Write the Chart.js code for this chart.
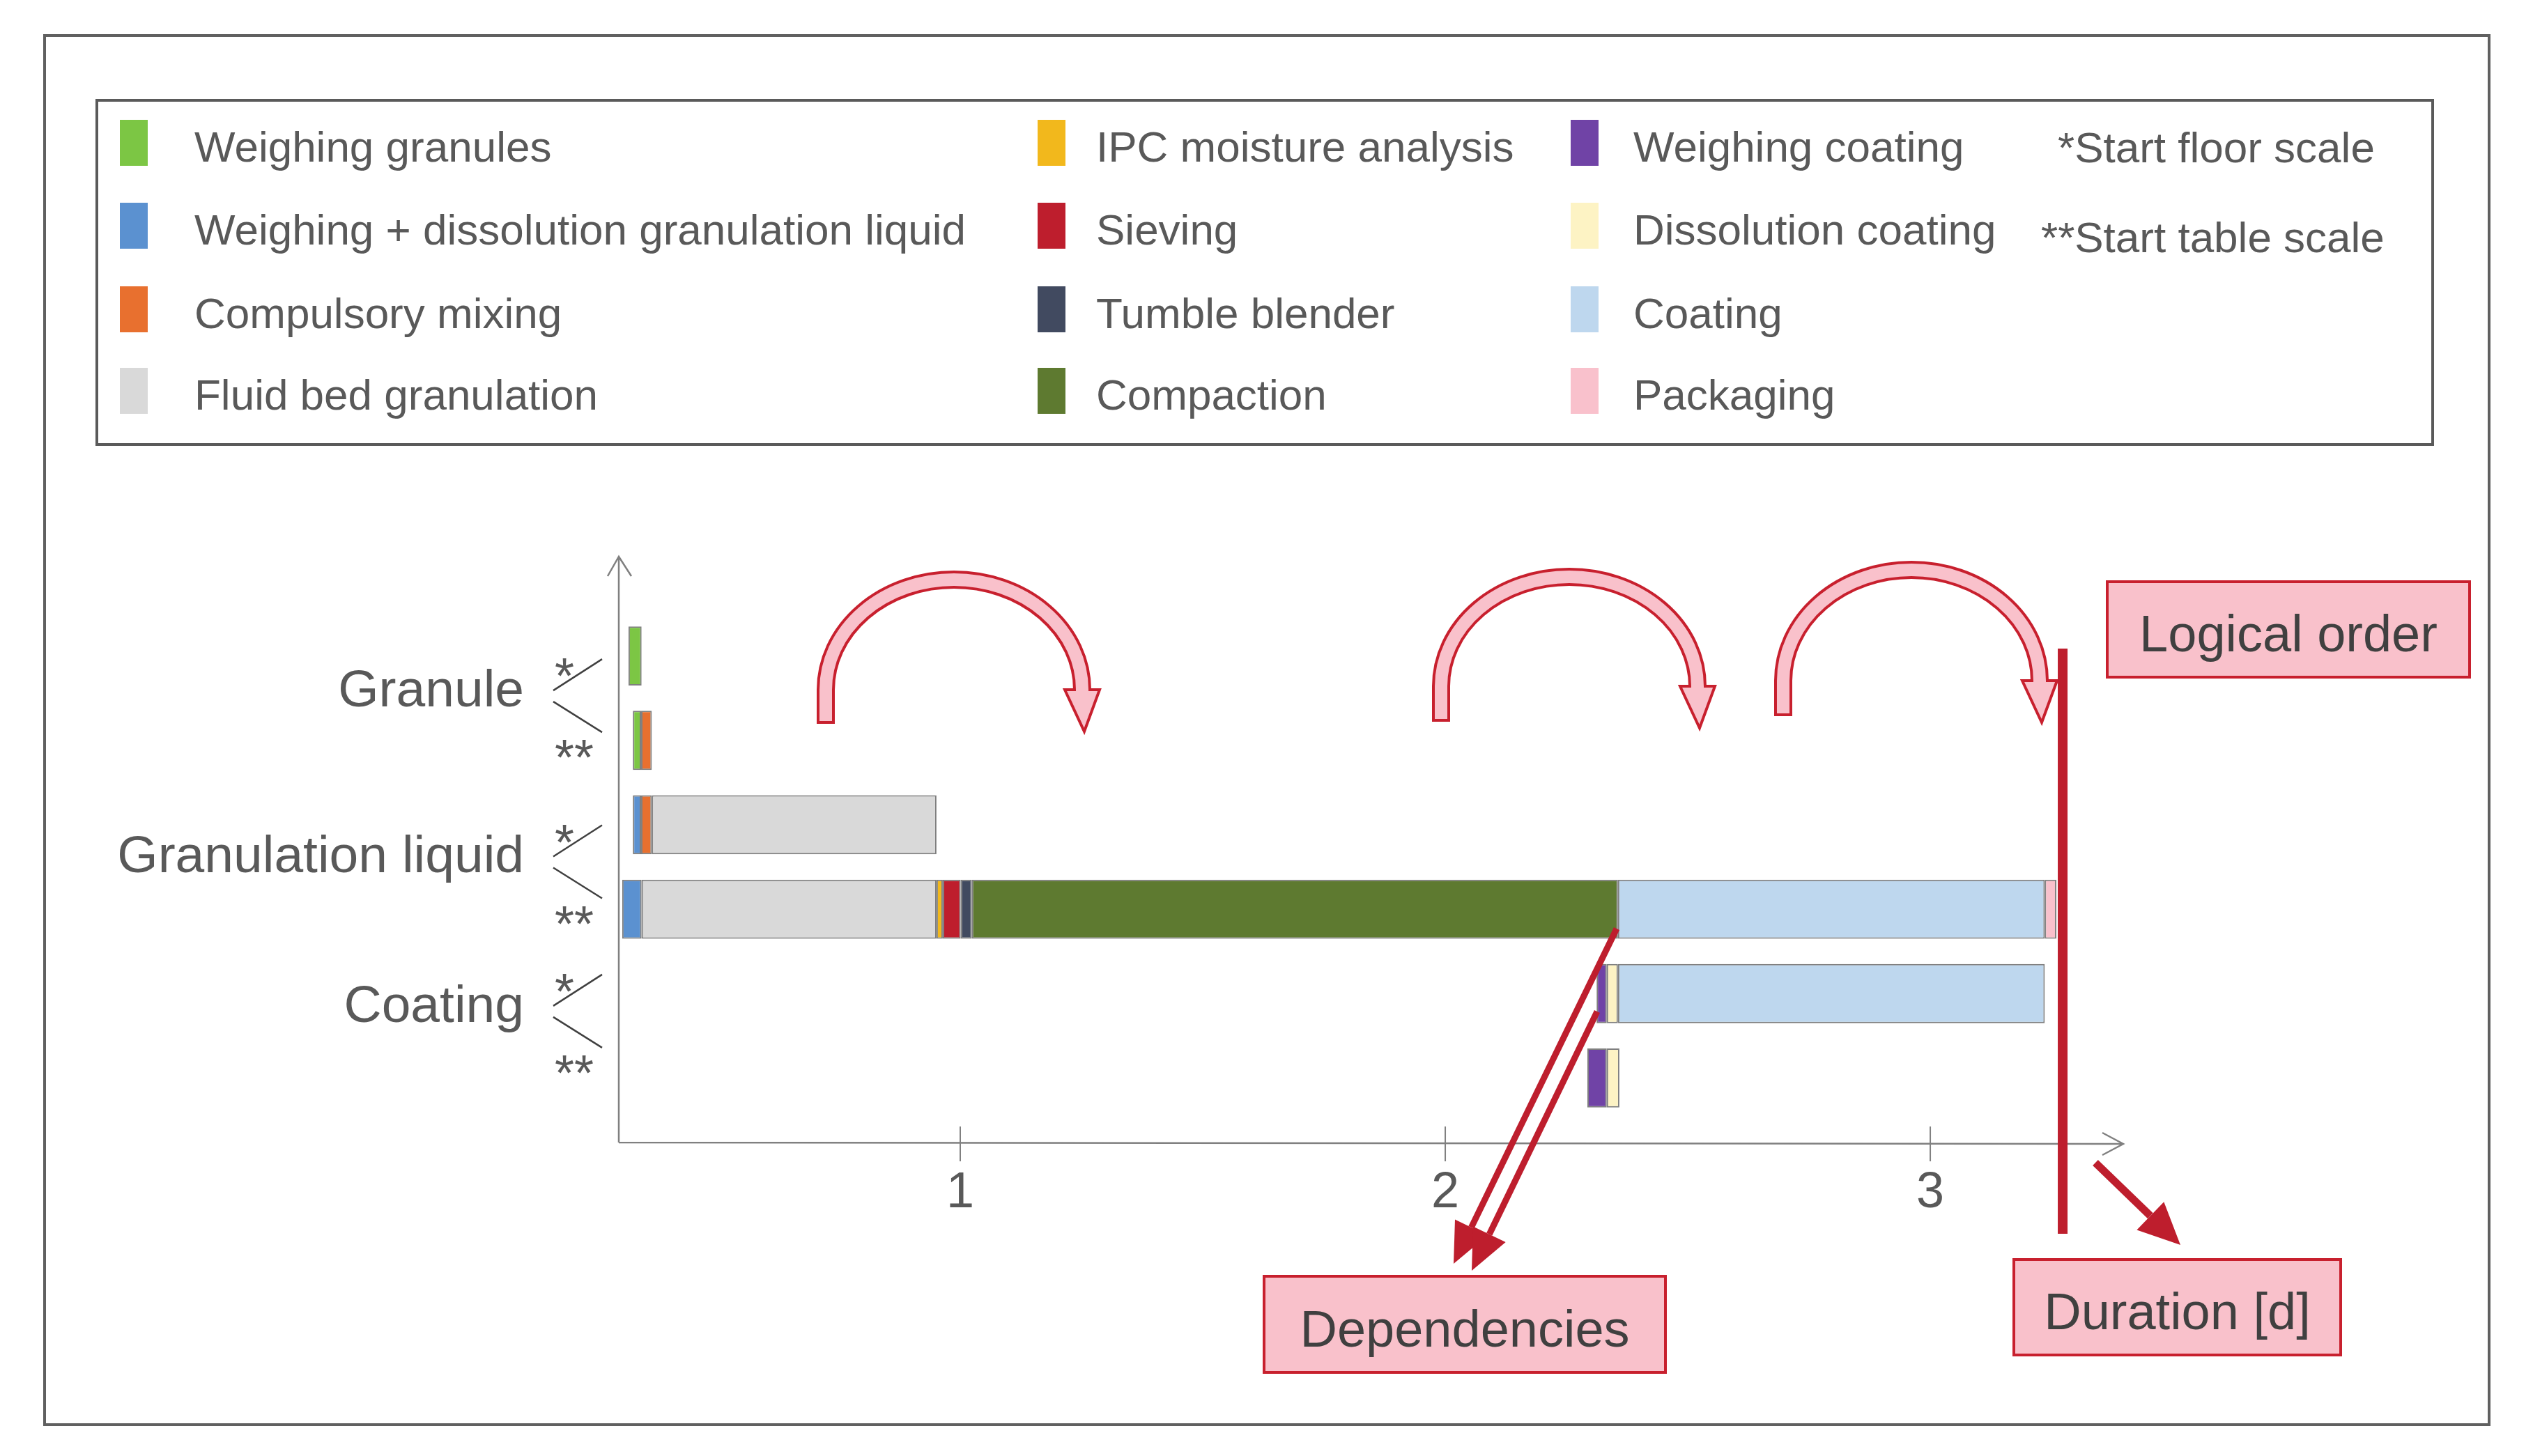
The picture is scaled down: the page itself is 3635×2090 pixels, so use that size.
<!DOCTYPE html>
<html>
<head>
<meta charset="utf-8">
<title>Process schedule – granule, granulation liquid, coating</title>
<script src="https://cdn.jsdelivr.net/npm/chart.js@4.4.1/dist/chart.umd.min.js"></script>
<style>
  html, body { margin: 0; padding: 0; background: #fff; }
  body { width: 3635px; height: 2090px; position: relative; overflow: hidden;
         font-family: "Liberation Sans", Arial, sans-serif; }
  #chart { position: absolute; left: 0; top: 0; }
  .frame { position: absolute; box-sizing: border-box; border: 4px solid #606060; }
  .swatch { position: absolute; width: 40px; height: 66px; }
  .ltext { position: absolute; font-size: 62px; line-height: 70px; color: #595959; white-space: nowrap; }
  .callout { position: absolute; box-sizing: border-box; background: #f9c1cb; border: 4px solid #c8202e;
             color: #404040; font-size: 74px; display: flex; align-items: center; justify-content: center;
             padding-top: 12px; white-space: nowrap; }
</style>
</head>
<body>
<div class="frame" style="left:62px;top:49px;width:3512px;height:1998px;"></div>
<div class="frame" style="left:137px;top:142px;width:3356px;height:498px;border-color:#5a5a5a;"></div>
<div id="legend"></div>
<canvas id="chart" width="3635" height="2090" style="width:3635px;height:2090px;"></canvas>
<div class="callout" style="left:3022px;top:833px;width:524px;height:141px;">Logical order</div>
<div class="callout" style="left:1812px;top:1830px;width:580px;height:142px;">Dependencies</div>
<div class="callout" style="left:2888px;top:1806px;width:473px;height:141px;">Duration [d]</div>

<script>
// rows of the schedule (* = start floor scale, ** = start table scale)
const rowLabels = ['Granule *', 'Granule **', 'Granulation liquid *', 'Granulation liquid **', 'Coating *', 'Coating **'];
const groupLabels = ['Granule', 'Granulation liquid', 'Coating'];
const xTickValues = [1, 2, 3];
const footnotes = ['*Start floor scale', '**Start table scale'];

const processNames = [
  'Weighing granules', 'Weighing + dissolution granulation liquid', 'Compulsory mixing', 'Fluid bed granulation',
  'IPC moisture analysis', 'Sieving', 'Tumble blender', 'Compaction',
  'Weighing coating', 'Dissolution coating', 'Coating', 'Packaging'
];
const processColors = [
  '#7cc644', '#5b91d0', '#e8702f', '#d9d9d9',
  '#f2b81c', '#be1e2d', '#414a60', '#5e7a30',
  '#7043a6', '#fdf3c4', '#bed7ee', '#f9c1cc'
];

// [start, end] in days for each row, null = not used in that row
const weighingGranules   = [[0.316, 0.343], [0.325, 0.342], null, null, null, null];
const weighingLiquid     = [null, null, [0.325, 0.342], [0.303, 0.343], null, null];
const compulsoryMixing   = [null, [0.342, 0.364], [0.342, 0.364], null, null, null];
const fluidBed           = [null, null, [0.364, 0.951], [0.343, 0.951], null, null];
const ipcMoisture        = [null, null, null, [0.951, 0.964], null, null];
const sieving            = [null, null, null, [0.964, 1.001], null, null];
const tumbleBlender      = [null, null, null, [1.001, 1.024], null, null];
const compaction         = [null, null, null, [1.024, 2.356], null, null];
const weighingCoating    = [null, null, null, null, [2.312, 2.333], [2.293, 2.333]];
const dissolutionCoating = [null, null, null, null, [2.333, 2.356], [2.333, 2.359]];
const coating            = [null, null, null, [2.356, 3.236], [2.356, 3.236], null];
const packaging          = [null, null, null, [3.236, 3.260], null, null];

const processValues = [
  weighingGranules, weighingLiquid, compulsoryMixing, fluidBed,
  ipcMoisture, sieving, tumbleBlender, compaction,
  weighingCoating, dissolutionCoating, coating, packaging
];

const FONT = '"Liberation Sans", Arial, sans-serif';
const TEXT = '#595959';
const RED = '#be1e2d';

// curved "logical order" arrows
function curvedArrow(ctx, a) {
  const cx = (a.xL + a.xR) / 2, rx = (a.xR - a.xL) / 2, ry = a.yR - a.apex;
  const band = (footExt, endExt) => {
    ctx.beginPath();
    ctx.moveTo(a.xL, a.yL + footExt);
    ctx.lineTo(a.xL, a.yR);
    ctx.ellipse(cx, a.yR, rx, ry, 0, Math.PI, 2 * Math.PI);
    ctx.lineTo(a.xR, a.yR + endExt);
  };
  ctx.save();
  ctx.lineCap = 'butt';
  ctx.strokeStyle = '#c8202e';
  ctx.lineWidth = 26;
  band(4, 0);
  ctx.stroke();
  // arrow head
  ctx.beginPath();
  ctx.moveTo(a.xR - 25, a.yR);
  ctx.lineTo(a.xR + 25, a.yR);
  ctx.lineTo(a.xR + 3, a.yR + 60);
  ctx.closePath();
  ctx.fillStyle = '#f9c1cb';
  ctx.fill();
  ctx.lineWidth = 4;
  ctx.lineJoin = 'miter';
  ctx.stroke();
  ctx.strokeStyle = '#f9c1cb';
  ctx.lineWidth = 18;
  band(0, 4);
  ctx.stroke();
  ctx.restore();
}

function straightArrow(ctx, x1, y1, x2, y2, w, headLen, headHalf) {
  const ang = Math.atan2(y2 - y1, x2 - x1);
  const bx = x2 - headLen * Math.cos(ang), by = y2 - headLen * Math.sin(ang);
  ctx.save();
  ctx.strokeStyle = RED;
  ctx.fillStyle = RED;
  ctx.lineWidth = w;
  ctx.beginPath();
  ctx.moveTo(x1, y1);
  ctx.lineTo(bx, by);
  ctx.stroke();
  ctx.beginPath();
  ctx.moveTo(x2, y2);
  ctx.lineTo(bx + headHalf * Math.sin(ang), by - headHalf * Math.cos(ang));
  ctx.lineTo(bx - headHalf * Math.sin(ang), by + headHalf * Math.cos(ang));
  ctx.closePath();
  ctx.fill();
  ctx.restore();
}

const schemePlugin = {
  id: 'scheme',
  afterDraw(chart) {
    const ctx = chart.ctx;
    const xs = chart.scales.x, ys = chart.scales.y;
    const left = chart.chartArea.left;
    const axisY = 1640, axisTop = 799, axisEnd = 3047;

    ctx.save();
    // axes with open arrow heads
    ctx.strokeStyle = '#808080';
    ctx.lineWidth = 2.5;
    ctx.beginPath();
    ctx.moveTo(left, axisY); ctx.lineTo(left, axisTop);
    ctx.moveTo(left - 16, axisTop + 28); ctx.lineTo(left, axisTop); ctx.lineTo(left + 18, axisTop + 28);
    ctx.moveTo(left, axisY); ctx.lineTo(axisEnd, axisY + 2);
    ctx.moveTo(axisEnd - 30, axisY - 14); ctx.lineTo(axisEnd, axisY + 2); ctx.lineTo(axisEnd - 30, axisY + 18);
    ctx.stroke();
    ctx.lineWidth = 2;
    ctx.beginPath();
    xTickValues.forEach(v => {
      const px = xs.getPixelForValue(v);
      ctx.moveTo(px, axisY - 23); ctx.lineTo(px, axisY + 27);
    });
    ctx.stroke();

    // group labels with * / ** branches
    const groupShift = [-3, -7, -35];
    groupLabels.forEach((g, i) => {
      const v = (ys.getPixelForValue(2 * i) + ys.getPixelForValue(2 * i + 1)) / 2 + groupShift[i];
      ctx.fillStyle = TEXT;
      ctx.font = '75px ' + FONT;
      ctx.textAlign = 'right';
      ctx.textBaseline = 'middle';
      ctx.fillText(g, 752, v - 6);
      ctx.font = '72px ' + FONT;
      ctx.textAlign = 'left';
      ctx.textBaseline = 'alphabetic';
      ctx.fillText('*', 796, v - 4);
      ctx.fillText('**', 796, v + 113);
      ctx.strokeStyle = '#404040';
      ctx.lineWidth = 2.5;
      ctx.beginPath();
      ctx.moveTo(864, v - 53); ctx.lineTo(794, v - 8);
      ctx.moveTo(794, v + 8); ctx.lineTo(864, v + 52);
      ctx.stroke();
    });
    ctx.restore();

    // logical order arrows
    curvedArrow(ctx, { xL: 1185, yL: 1035, xR: 1553, yR: 990, apex: 832 });
    curvedArrow(ctx, { xL: 2068, yL: 1032, xR: 2436, yR: 985, apex: 828 });
    curvedArrow(ctx, { xL: 2559, yL: 1024, xR: 2927, yR: 977, apex: 818 });

    // end of process line
    const endX = xs.getPixelForValue(packaging[3][1]) + 9;
    ctx.save();
    ctx.strokeStyle = RED;
    ctx.lineWidth = 14;
    ctx.beginPath();
    ctx.moveTo(endX, 931); ctx.lineTo(endX, 1771);
    ctx.stroke();
    ctx.restore();

    // dependency + duration arrows
    straightArrow(ctx, 2320, 1333, 2086, 1814, 9, 58, 26);
    straightArrow(ctx, 2292, 1452, 2112, 1824, 9, 58, 26);
    straightArrow(ctx, 3007, 1669, 3129, 1787, 11, 60, 28);
  }
};

const chart = new Chart(document.getElementById('chart'), {
  type: 'bar',
  data: {
    labels: rowLabels,
    datasets: processNames.map((name, i) => ({
      label: name,
      data: processValues[i],
      backgroundColor: processColors[i],
      borderColor: '#7f7f7f',
      borderWidth: 2,
      borderSkipped: false,
      grouped: false,
      barPercentage: 0.7,
      categoryPercentage: 1
    }))
  },
  options: {
    indexAxis: 'y',
    responsive: false,
    devicePixelRatio: 1,
    animation: false,
    layout: { padding: { left: 888, right: 590, top: 881, bottom: 342 } },
    plugins: { legend: { display: false }, tooltip: { enabled: false } },
    scales: {
      x: {
        type: 'linear',
        min: 0.296,
        max: 3.395,
        grid: { display: false, drawTicks: false },
        border: { display: false },
        ticks: { color: TEXT, font: { family: FONT, size: 72 }, padding: 62, callback: v => String(v) },
        afterBuildTicks: s => { s.ticks = xTickValues.map(v => ({ value: v })); },
        afterFit: s => { s.height = 140; }
      },
      y: { type: 'category', display: false, offset: true }
    }
  },
  plugins: [schemePlugin]
});

// legend built from the datasets: 4 rows per column
const legendSwatchX = [172, 1489, 2254];
const legendTextX = [279, 1573, 2344];
const legendRowY = [211, 330, 450, 567];
const legend = document.getElementById('legend');
chart.data.datasets.forEach((ds, i) => {
  const col = Math.floor(i / 4), row = i % 4;
  const sw = document.createElement('div');
  sw.className = 'swatch';
  sw.style.left = legendSwatchX[col] + 'px';
  sw.style.top = (legendRowY[row] - 39) + 'px';
  sw.style.background = ds.backgroundColor;
  legend.appendChild(sw);
  const tx = document.createElement('div');
  tx.className = 'ltext';
  tx.style.left = legendTextX[col] + 'px';
  tx.style.top = (legendRowY[row] - 35) + 'px';
  tx.textContent = ds.label;
  legend.appendChild(tx);
});
const footX = [2953, 2929], footY = [212, 341];
footnotes.forEach((f, i) => {
  const tx = document.createElement('div');
  tx.className = 'ltext';
  tx.style.left = footX[i] + 'px';
  tx.style.top = (footY[i] - 35) + 'px';
  tx.textContent = f;
  legend.appendChild(tx);
});
</script>
</body>
</html>
